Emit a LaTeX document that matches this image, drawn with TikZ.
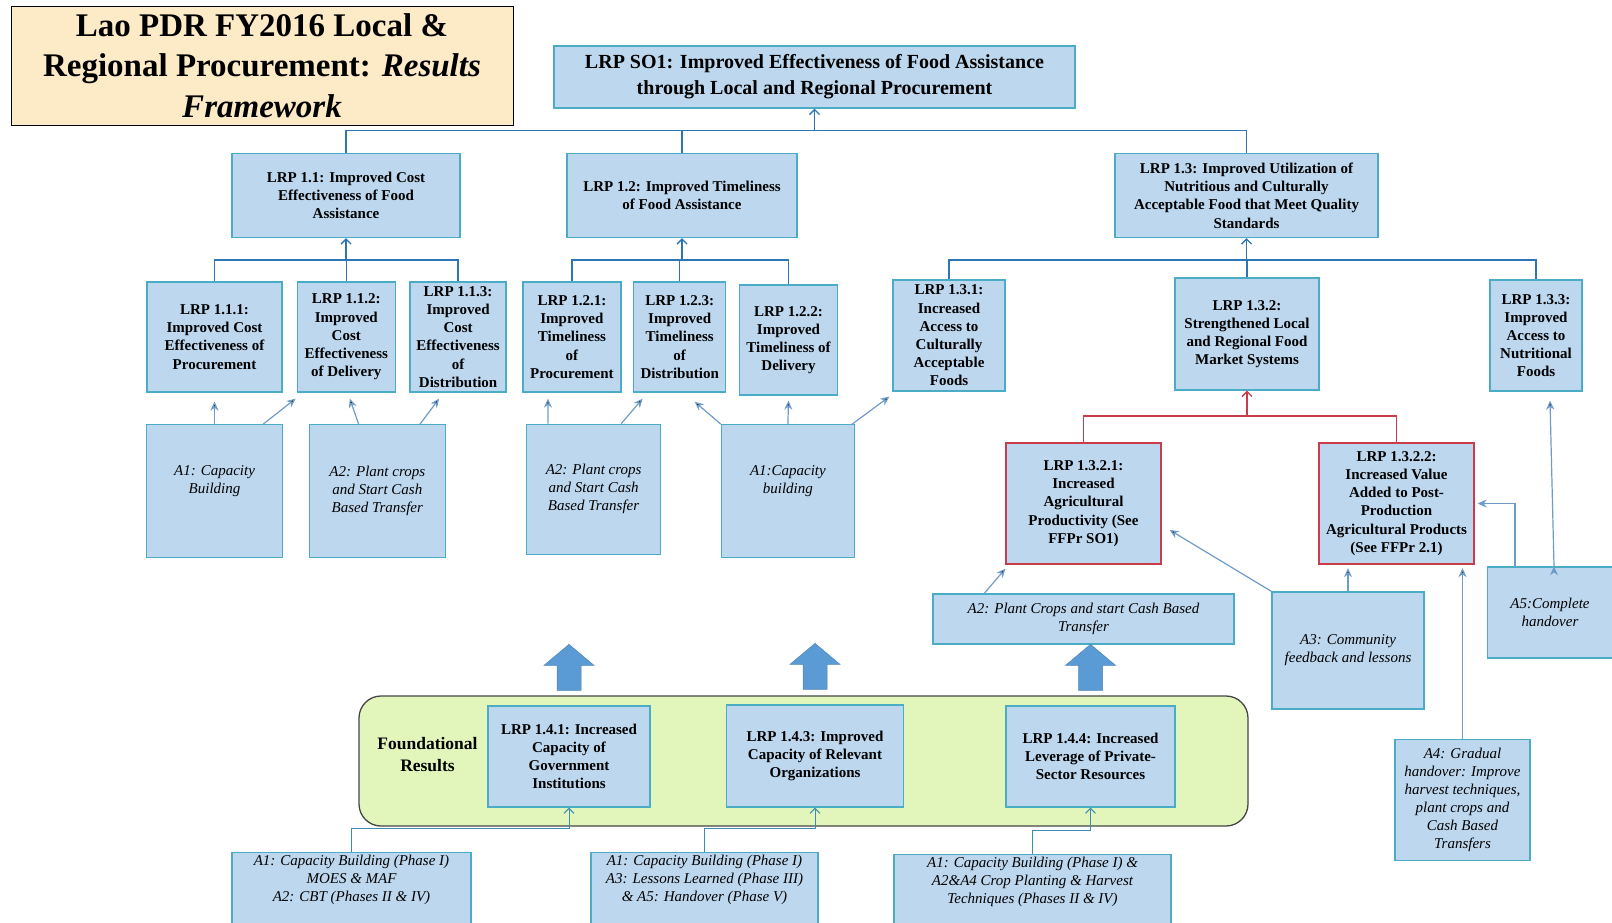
\documentclass[tikz,border=0pt]{standalone}
\usepackage{fontspec}
\setmainfont{Liberation Serif}
\usetikzlibrary{arrows.meta,positioning}

\definecolor{lrpfill}{RGB}{189,215,238}
\definecolor{lrpedge}{RGB}{75,172,198}
\definecolor{lrpred}{RGB}{200,60,75}
\definecolor{treeblue}{RGB}{46,117,182}
\definecolor{actblue}{RGB}{110,155,200}
\definecolor{footblue}{RGB}{60,140,180}
\definecolor{bigblue}{RGB}{91,155,213}
\definecolor{fndgreen}{RGB}{226,245,186}
\definecolor{fndedge}{RGB}{70,70,70}
\definecolor{titlefill}{RGB}{253,235,200}

\tikzset{
  lrp/.style={draw=lrpedge, fill=lrpfill, line width=1.3pt, align=center, inner sep=1.5pt,
    font=\fontsize{15}{18.2}\selectfont\bfseries},
  act/.style={lrp, font=\fontsize{15}{18}\selectfont\itshape},
  redbox/.style={lrp, draw=lrpred},
  treeline/.style={draw=treeblue, line width=1.3pt},
  redline/.style={draw=lrpred, line width=1.3pt},
  footline/.style={draw=footblue, line width=1pt},
  actarrow/.style={draw=actblue, line width=1.2pt, -{Stealth[length=9pt,width=8pt]}},
  bigarrow/.style={fill=bigblue, draw=bigblue!85!black, line width=0.5pt}
}

\begin{document}
\begin{tikzpicture}[x=1pt, y=-1pt, >={Straight Barb[length=5pt,width=10pt]}]
  \useasboundingbox (0,0) rectangle (1612,922);
  \clip (0,0) rectangle (1612,922);

  \node[draw=black, fill=titlefill, line width=1pt, minimum width=502pt, minimum height=119pt,
    align=center, font=\fontsize{33}{40.6}\selectfont\bfseries] (title) at (262,65.5)
    {Lao PDR FY2016 Local \&\\Regional Procurement: \textit{Results}\\\textit{Framework}};
  \node[lrp, minimum width=521pt, minimum height=62pt, font=\fontsize{20}{25.7}\selectfont\bfseries]
    (so1) at (814.5,77) {LRP SO1: Improved Effectiveness of Food Assistance\\through Local and Regional Procurement};

  \node[lrp, minimum width=228pt, minimum height=84pt] (l11) at (346,195.5) {LRP 1.1: Improved Cost\\Effectiveness of Food\\Assistance};
  \node[lrp, minimum width=230pt, minimum height=84pt] (l12) at (682,195.5) {LRP 1.2: Improved Timeliness\\of Food Assistance};
  \node[lrp, minimum width=263pt, minimum height=84pt] (l13) at (1246.5,195.5) {LRP 1.3: Improved Utilization of\\Nutritious and Culturally\\Acceptable Food that Meet Quality\\Standards};

  \node[lrp, minimum width=135pt, minimum height=110pt] (l111) at (214.5,337) {LRP 1.1.1:\\Improved Cost\\Effectiveness of\\Procurement};
  \node[lrp, minimum width=98pt, minimum height=110pt] (l112) [right=14pt of l111] {LRP 1.1.2:\\Improved\\Cost\\Effectiveness\\of Delivery};
  \node[lrp, minimum width=96pt, minimum height=110pt] (l113) [right=13.5pt of l112] {LRP 1.1.3:\\Improved\\Cost\\Effectiveness\\of\\Distribution};
  \node[lrp, minimum width=98pt, minimum height=110pt] (l121) [right=15.5pt of l113] {LRP 1.2.1:\\Improved\\Timeliness\\of\\Procurement};
  \node[lrp, minimum width=92pt, minimum height=110pt] (l123) [right=11.5pt of l121] {LRP 1.2.3:\\Improved\\Timeliness\\of\\Distribution};
  \node[lrp, minimum width=98pt, minimum height=110pt] (l122) [right=12.5pt of l123, yshift=-3pt] {LRP 1.2.2:\\Improved\\Timeliness of\\Delivery};
  \node[lrp, minimum width=112pt, minimum height=111pt] (l131) at (949,335.5) {LRP 1.3.1:\\Increased\\Access to\\Culturally\\Acceptable\\Foods};
  \node[lrp, minimum width=144pt, minimum height=112pt] (l132) at (1247,334) {LRP 1.3.2:\\Strengthened Local\\and Regional Food\\Market Systems};
  \node[lrp, minimum width=92pt, minimum height=111pt] (l133) at (1536,335.5) {LRP 1.3.3:\\Improved\\Access to\\Nutritional\\Foods};

  \node[act, minimum width=136pt, minimum height=133pt] (a1) [below=31.5pt of l111] {A1: Capacity\\Building\\[6pt]};
  \node[act, minimum width=136pt, minimum height=133pt] (a2) [right=25.5pt of a1] {A2: Plant crops\\and Start Cash\\Based Transfer};
  \node[act, minimum width=134pt, minimum height=130pt] (a2b) [right=80pt of a2, yshift=2pt] {A2: Plant crops\\and Start Cash\\Based Transfer};
  \node[act, minimum width=133pt, minimum height=133pt] (a1b) [right=59.5pt of a2b, yshift=-2pt] {A1:Capacity\\building\\[6pt]};

  \node[redbox, minimum width=155pt, minimum height=121pt] (r1) at (1083.5,503.5) {LRP 1.3.2.1:\\Increased\\Agricultural\\Productivity (See\\FFPr SO1)};
  \node[redbox, minimum width=155pt, minimum height=121pt] (r2) at (1396.5,503.5) {LRP 1.3.2.2:\\Increased Value\\Added to Post-\\Production\\Agricultural Products\\(See FFPr 2.1)};
  \node[act, minimum width=301pt, minimum height=50pt] (a2w) at (1083.5,619) {A2: Plant Crops and start Cash Based\\Transfer};
  \node[act, minimum width=152pt, minimum height=117pt] (a3) at (1348,650.5) {A3: Community\\feedback and lessons};
  \node[act, minimum width=125pt, minimum height=91pt] (a5) at (1550,612.5) {A5:Complete\\handover};
  \node[act, minimum width=135pt, minimum height=121pt] (a4) at (1462.5,800) {A4: Gradual\\handover: Improve\\harvest techniques,\\plant crops and\\Cash Based\\Transfers};

  \node[draw=fndedge, fill=fndgreen, rounded corners=22pt, line width=1.3pt, minimum width=889pt, minimum height=130pt] (fnd) at (803.5,761) {};
  \node[align=center, font=\fontsize{17.5}{21.6}\selectfont\bfseries] (fndtxt) at (427.5,754.5) {Foundational\\Results};
  \node[lrp, minimum width=162pt, minimum height=101pt] (f1) at (569,756.5) {LRP 1.4.1: Increased\\Capacity of\\Government\\Institutions};
  \node[lrp, minimum width=177pt, minimum height=102pt] (f3) at (815,756) {LRP 1.4.3: Improved\\Capacity of Relevant\\Organizations};
  \node[lrp, minimum width=169pt, minimum height=101pt] (f4) at (1090.5,756.5) {LRP 1.4.4: Increased\\Leverage of Private-\\Sector Resources};

  \node[act, anchor=north, inner sep=2pt] (b1) at (351.5,852) {\parbox[c][96pt][t]{235pt}{\centering A1: Capacity Building (Phase I)\\MOES \& MAF\\A2: CBT (Phases II \& IV)}};
  \node[act, anchor=north, inner sep=2pt] (b2) at (704.5,852) {\parbox[c][96pt][t]{223pt}{\centering A1: Capacity Building (Phase I)\\A3: Lessons Learned (Phase III)\\\& A5: Handover (Phase V)}};
  \node[act, anchor=north, inner sep=2pt] (b3) at (1032.5,854) {\parbox[c][96pt][t]{273pt}{\centering A1: Capacity Building (Phase I) \&\\A2\&A4 Crop Planting \& Harvest\\Techniques (Phases II \& IV)}};

  \coordinate (hj0) at (0,130.5);
  \coordinate (hj1) at (0,260);
  \coordinate (hj2) at (0,416);

  \draw[treeline] (l11.north) -- (l11.north |- hj0) -- (l13.north |- hj0) -- (l13.north);
  \draw[treeline] (l12.north) -- (l12.north |- hj0);
  \draw[treeline,->] (so1.south |- hj0) -- (so1.south);

  \draw[treeline] (l111.north) -- (l111.north |- hj1) -- (l113.north |- hj1) -- (l113.north);
  \draw[treeline] (l112.north) -- (l112.north |- hj1);
  \draw[treeline,->] (l11.south |- hj1) -- (l11.south);
  \draw[treeline] (l121.north) -- (l121.north |- hj1) -- (l122.north |- hj1) -- (l122.north);
  \draw[treeline] (l123.north) -- (l123.north |- hj1);
  \draw[treeline,->] (l12.south |- hj1) -- (l12.south);
  \draw[treeline] (l131.north) -- (l131.north |- hj1) -- (l133.north |- hj1) -- (l133.north);
  \draw[treeline] (l132.north) -- (l132.north |- hj1);
  \draw[treeline,->] (l13.south |- hj1) -- (l13.south);

  \draw[redline] (r1.north) -- (r1.north |- hj2) -- (r2.north |- hj2) -- (r2.north);
  \draw[redline,->] (l132.south |- hj2) -- (l132.south);

  \path[actarrow]
  (a1.north) edge ([yshift=-9pt]l111.south)
  ([xshift=-20pt]a1.north east) edge ([xshift=-1pt,yshift=-6pt]l112.south west)
  ([xshift=50pt]a2.north west) edge ([xshift=3.5pt,yshift=-6pt]l112.south)
  ([xshift=-26pt]a2.north east) edge ([xshift=-19pt,yshift=-6pt]l113.south)
  ([xshift=22pt]a2b.north west) edge ([xshift=-24pt,yshift=-6pt]l121.south)
  ([xshift=-40pt]a2b.north east) edge ([xshift=9.5pt,yshift=-6pt]l123.south west)
  (a1b.north west) edge ([xshift=15pt,yshift=-9pt]l123.south)
  (a1b.north) edge ([yshift=-5pt]l122.south)
  ([xshift=-3pt]a1b.north east) edge ([xshift=-3pt,yshift=-5pt]l131.south west)
  ([xshift=52pt]a2w.north west) edge ([yshift=-4pt]r1.south west)
  (a3.north west) edge ([xshift=8pt,yshift=-26.5pt]r1.east)
  (a3.north) edge[shorten >=3.5pt] (a3.north |- r2.south)
  (a4.north) edge[shorten >=3.5pt] (a4.north |- r2.south)
  ([xshift=4pt]a5.north) edge ([xshift=14pt,yshift=-9pt]l133.south);
  \draw[actarrow, shorten >=3pt] ([xshift=-35pt]a5.north) |- (r2.east);

  \foreach \n in {f1,f3,f4}
    \path[bigarrow] ([yshift=15pt]\n.north) ++(-12,0) -- ++(0,-25) -- ++(-13,0) -- ++(25,-21)
      -- ++(25,21) -- ++(-13,0) -- ++(0,25) -- cycle;

  \draw[footline,->] (b1.north) -- ++(0,-23.5) -| (f1.south);
  \draw[footline,->] (b2.north) -- ++(0,-23.5) -| (f3.south);
  \draw[footline,->] (b3.north) -- ++(0,-23.5) -| (f4.south);
\end{tikzpicture}
\end{document}
